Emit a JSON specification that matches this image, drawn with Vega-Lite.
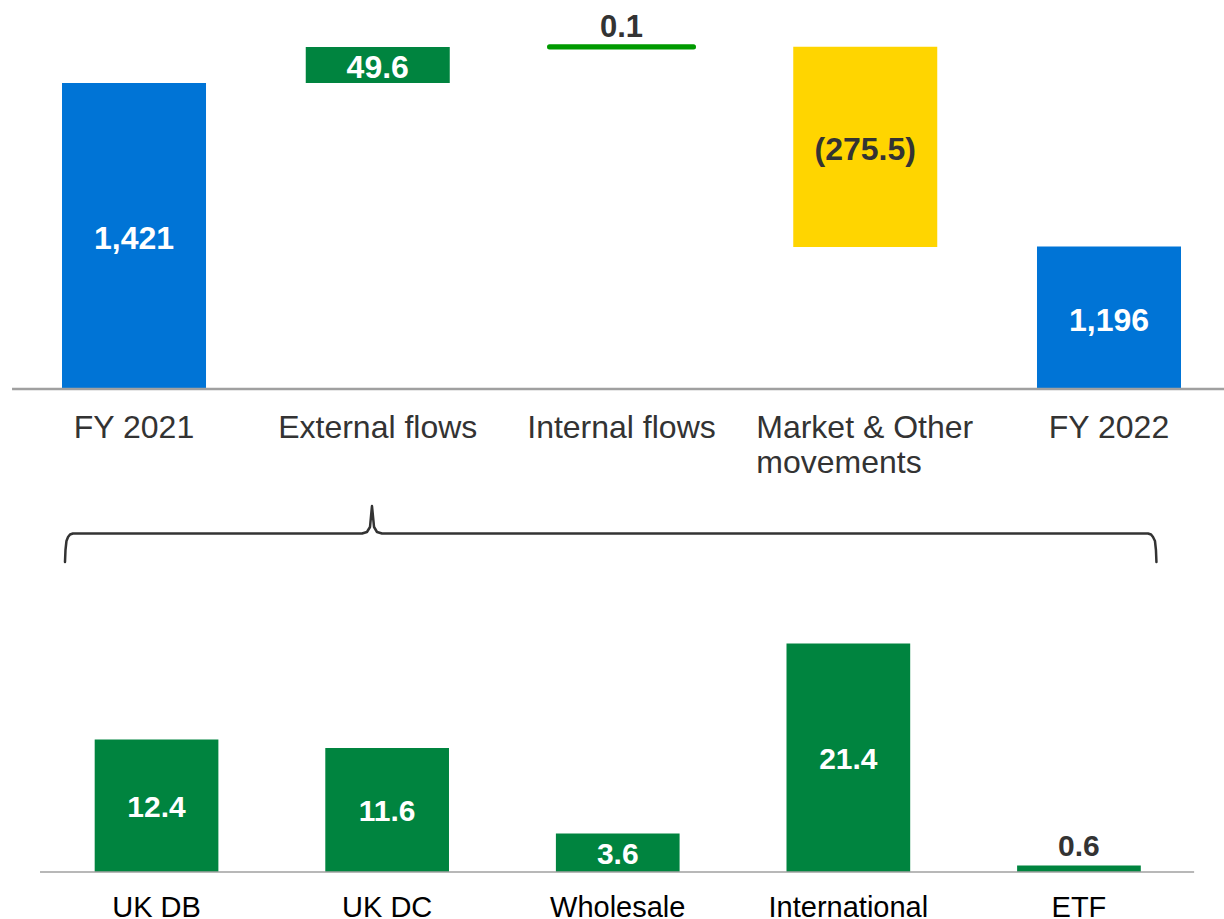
{
  "$schema": "https://vega.github.io/schema/vega-lite/v6.json",
  "padding": {"top": 11, "left": 0, "right": 0, "bottom": 0},
  "background": "#ffffff",
  "bounds": "flush",
  "spacing": 0,
  "config": {
    "view": {"stroke": null},
    "font": "Liberation Sans"
  },
  "datasets": {
    "flows": [
      {"step": "FY 2021", "start": 0, "end": 1421, "kind": "Total", "label": "1,421"},
      {"step": "External flows", "start": 1421, "end": 1470.6, "kind": "Inflow", "label": "49.6"},
      {"step": "Internal flows", "start": 1470.6, "end": 1470.7, "kind": "Internal", "label": "0.1"},
      {"step": "Market & Other movements", "start": 1470.7, "end": 1195.2, "kind": "Market", "label": "(275.5)"},
      {"step": "FY 2022", "start": 0, "end": 1196, "kind": "Total", "label": "1,196"}
    ],
    "external": [
      {"channel": "UK DB", "value": 12.4, "label": "12.4"},
      {"channel": "UK DC", "value": 11.6, "label": "11.6"},
      {"channel": "Wholesale", "value": 3.6, "label": "3.6"},
      {"channel": "International", "value": 21.4, "label": "21.4"},
      {"channel": "ETF", "value": 0.6, "label": "0.6"}
    ],
    "brace": [
      {"bx": 5.31, "by": 19.91, "ord": 0},
      {"bx": 5.35, "by": 25.46, "ord": 1},
      {"bx": 5.43, "by": 29.63, "ord": 2},
      {"bx": 5.56, "by": 31.48, "ord": 3},
      {"bx": 5.72, "by": 32.64, "ord": 4},
      {"bx": 5.96, "by": 33.10, "ord": 5},
      {"bx": 29.58, "by": 33.10, "ord": 6},
      {"bx": 29.98, "by": 33.80, "ord": 7},
      {"bx": 30.23, "by": 36.11, "ord": 8},
      {"bx": 30.39, "by": 45.83, "ord": 9},
      {"bx": 30.56, "by": 36.11, "ord": 10},
      {"bx": 30.80, "by": 33.80, "ord": 11},
      {"bx": 31.21, "by": 33.10, "ord": 12},
      {"bx": 93.79, "by": 33.10, "ord": 13},
      {"bx": 94.04, "by": 32.64, "ord": 14},
      {"bx": 94.20, "by": 31.48, "ord": 15},
      {"bx": 94.36, "by": 29.63, "ord": 16},
      {"bx": 94.44, "by": 25.46, "ord": 17},
      {"bx": 94.48, "by": 19.91, "ord": 18}
    ]
  },
  "vconcat": [
    {
      "width": 1224,
      "height": 378,
      "data": {"name": "flows"},
      "encoding": {
        "x": {
          "field": "step",
          "type": "nominal",
          "sort": null,
          "scale": {
            "domain": ["FY 2021", "External flows", "Internal flows", "Market & Other movements", "FY 2022"],
            "paddingInner": 0.4092,
            "paddingOuter": 0.2154,
            "align": 0.5905,
            "round": false
          },
          "axis": {
            "title": null,
            "domain": false,
            "ticks": false,
            "labelAngle": 0,
            "labelFont": "Liberation Sans",
            "labelFontSize": 32,
            "labelColor": "#333333",
            "labelPadding": 23,
            "labelLimit": 400,
            "labelLineHeight": 35,
            "labelBaseline": "top",
            "labelExpr": "datum.value === 'Market & Other movements' ? ['Market & Other', 'movements'] : datum.value",
            "labelAlign": {"condition": {"test": "datum.value === 'Market & Other movements'", "value": "left"}, "value": "center"},
            "labelOffset": {"condition": {"test": "datum.value === 'Market & Other movements'", "value": -109}, "value": 0}
          }
        }
      },
      "layer": [
        {
          "transform": [{"filter": "datum.kind !== 'Internal'"}],
          "mark": {"type": "bar"},
          "encoding": {
            "y": {"field": "end", "type": "quantitative", "scale": {"domain": [1000, 1520], "clamp": true, "zero": false, "nice": false}, "axis": null},
            "y2": {"field": "start"},
            "color": {
              "field": "kind",
              "type": "nominal",
              "scale": {"domain": ["Total", "Inflow", "Market", "Internal"], "range": ["#0074D6", "#00843F", "#FFD500", "#009A00"]},
              "legend": null
            }
          }
        },
        {
          "transform": [{"filter": "datum.kind === 'Internal'"}],
          "mark": {"type": "bar", "color": "#009A00", "stroke": "#009A00", "strokeWidth": 5, "strokeJoin": "round"},
          "encoding": {
            "y": {"field": "end", "type": "quantitative", "scale": {"domain": [1000, 1520], "clamp": true, "zero": false, "nice": false}, "axis": null},
            "y2": {"field": "start"}
          }
        },
        {
          "data": {"values": [{}]},
          "mark": {"type": "rule", "stroke": "#a0a0a0", "strokeWidth": 2.5},
          "encoding": {
            "x": {"datum": "FY 2021", "type": "nominal", "bandPosition": -0.347},
            "x2": {"datum": "FY 2022", "bandPosition": 1.3},
            "y": {"datum": 1000, "type": "quantitative", "scale": {"domain": [1000, 1520], "clamp": true, "zero": false, "nice": false}, "axis": null}
          }
        },
        {
          "transform": [
            {"filter": "datum.kind !== 'Internal'"},
            {"calculate": "(max(datum.start, 1000) + datum.end) / 2", "as": "mid"}
          ],
          "mark": {"type": "text", "font": "Liberation Sans", "fontWeight": "bold", "fontSize": 32, "baseline": "middle", "align": "center", "dy": 3},
          "encoding": {
            "y": {"field": "mid", "type": "quantitative", "scale": {"domain": [1000, 1520], "clamp": true, "zero": false, "nice": false}, "axis": null},
            "text": {"field": "label"},
            "color": {"condition": {"test": "datum.kind === 'Market'", "value": "#333333"}, "value": "#ffffff"}
          }
        },
        {
          "transform": [{"filter": "datum.kind === 'Internal'"}],
          "mark": {"type": "text", "font": "Liberation Sans", "fontWeight": "bold", "fontSize": 31, "baseline": "alphabetic", "align": "center", "dy": -10, "color": "#333333"},
          "encoding": {
            "y": {"field": "end", "type": "quantitative", "scale": {"domain": [1000, 1520], "clamp": true, "zero": false, "nice": false}, "axis": null},
            "text": {"field": "label"}
          }
        }
      ]
    },
    {
      "width": 1224,
      "height": 216,
      "data": {"name": "brace"},
      "mark": {"type": "line", "stroke": "#333333", "strokeWidth": 2.5, "strokeJoin": "round", "strokeCap": "round"},
      "encoding": {
        "x": {"field": "bx", "type": "quantitative", "scale": {"domain": [0, 100], "nice": false, "zero": false}, "axis": null},
        "y": {"field": "by", "type": "quantitative", "scale": {"domain": [0, 100], "nice": false, "zero": false}, "axis": null},
        "order": {"field": "ord", "type": "quantitative"}
      }
    },
    {
      "width": 1224,
      "height": 267,
      "data": {"name": "external"},
      "encoding": {
        "x": {
          "field": "channel",
          "type": "nominal",
          "sort": null,
          "scale": {
            "domain": ["UK DB", "UK DC", "Wholesale", "International", "ETF"],
            "paddingInner": 0.4636,
            "paddingOuter": 0.3857,
            "align": 0.5323,
            "round": false
          },
          "axis": {
            "title": null,
            "domain": false,
            "ticks": false,
            "labelAngle": 0,
            "labelFont": "Liberation Sans",
            "labelFontSize": 29,
            "labelColor": "#000000",
            "labelPadding": 21,
            "labelLimit": 400,
            "labelBaseline": "top"
          }
        }
      },
      "layer": [
        {
          "mark": {"type": "bar", "color": "#00843F"},
          "encoding": {
            "y": {"field": "value", "type": "quantitative", "scale": {"domain": [0, 25], "nice": false}, "axis": null}
          }
        },
        {
          "data": {"values": [{}]},
          "mark": {"type": "rule", "stroke": "#a0a0a0", "strokeWidth": 1.5},
          "encoding": {
            "x": {"datum": "UK DB", "type": "nominal", "bandPosition": -0.442},
            "x2": {"datum": "ETF", "bandPosition": 1.431},
            "y": {"datum": 0, "type": "quantitative", "scale": {"domain": [0, 25], "nice": false}, "axis": null}
          }
        },
        {
          "transform": [
            {"filter": "datum.value > 2"},
            {"calculate": "datum.value / 2", "as": "mid"}
          ],
          "mark": {"type": "text", "font": "Liberation Sans", "fontWeight": "bold", "fontSize": 30, "baseline": "middle", "align": "center", "color": "#ffffff", "dy": 2},
          "encoding": {
            "y": {"field": "mid", "type": "quantitative", "scale": {"domain": [0, 25], "nice": false}, "axis": null},
            "text": {"field": "label"}
          }
        },
        {
          "transform": [{"filter": "datum.value <= 2"}],
          "mark": {"type": "text", "font": "Liberation Sans", "fontWeight": "bold", "fontSize": 30, "baseline": "alphabetic", "align": "center", "dy": -10, "color": "#333333"},
          "encoding": {
            "y": {"field": "value", "type": "quantitative", "scale": {"domain": [0, 25], "nice": false}, "axis": null},
            "text": {"field": "label"}
          }
        }
      ]
    }
  ]
}
